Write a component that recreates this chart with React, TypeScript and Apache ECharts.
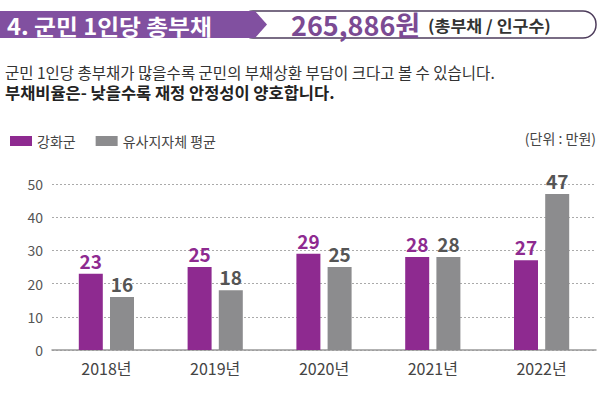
import React, { useEffect, useRef } from "react";
import * as echarts from "echarts";

const categories = ["2018년", "2019년", "2020년", "2021년", "2022년"];
const ganghwa = [23, 25, 29, 28, 27];
const similarAvg = [16, 18, 25, 28, 47];
const yTicks = [0, 10, 20, 30, 40, 50];
const seriesNames = ["강화군", "유사지자체 평균"];

const title = "4. 군민 1인당 총부채";
const bigValue = "265,886원";
const formula = "(총부채 / 인구수)";
const line1 = "군민 1인당 총부채가 많을수록 군민의 부채상환 부담이 크다고 볼 수 있습니다.";
const line2 = "부채비율은- 낮을수록 재정 안정성이 양호합니다.";
const unit = "(단위 : 만원)";

const PURPLE = "#8e2a90";
const GRAY = "#8c8c8e";
const FONT = "'Noto Sans CJK KR', 'Noto Sans', sans-serif";

export default function App() {
  const ref = useRef<HTMLDivElement>(null);
  useEffect(() => {
    if (!ref.current) return;
    const chart = echarts.init(ref.current, null, { renderer: "svg" });
    chart.setOption({
      animation: false,
      backgroundColor: "#ffffff",
      textStyle: { fontFamily: FONT },
      legend: {
        left: 5,
        top: 129,
        itemWidth: 22,
        itemHeight: 10,
        itemGap: 20,
        icon: "rect",
        textStyle: { fontSize: 14, color: "#444", fontFamily: FONT },
        data: seriesNames,
      },
      grid: { left: 52, right: 4, top: 184, bottom: 49 },
      xAxis: {
        type: "category",
        data: categories,
        axisLine: { show: true, lineStyle: { color: "#999", width: 1.5 } },
        axisTick: { show: false },
        axisLabel: { fontSize: 16, color: "#444", margin: 10, fontFamily: FONT },
      },
      yAxis: {
        type: "value",
        min: yTicks[0],
        max: yTicks[yTicks.length - 1],
        interval: 10,
        axisLine: { show: false },
        axisTick: { show: false },
        axisLabel: { fontSize: 14, color: "#555", margin: 9, fontFamily: FONT },
        splitLine: { show: true, lineStyle: { color: "#aaa", type: [2, 2], width: 1 } },
      },
      series: [
        {
          name: seriesNames[0],
          type: "bar",
          data: ganghwa,
          barWidth: 24,
          barGap: "30%",
          itemStyle: { color: PURPLE },
          label: {
            show: true,
            position: "top",
            distance: 4,
            fontSize: 19,
            fontWeight: "bold",
            color: PURPLE,
            fontFamily: FONT,
          },
        },
        {
          name: seriesNames[1],
          type: "bar",
          data: similarAvg,
          barWidth: 24,
          itemStyle: { color: GRAY },
          label: {
            show: true,
            position: "top",
            distance: 4,
            fontSize: 19,
            fontWeight: "bold",
            color: "#555",
            fontFamily: FONT,
          },
        },
      ],
      graphic: [
        {
          type: "rect",
          shape: { x: 240, y: 11, width: 356, height: 27, r: 13 },
          style: { fill: "#fff", stroke: "#4e3d5c", lineWidth: 1.5 },
        },
        {
          type: "polygon",
          shape: { points: [[0, 11], [255, 11], [267, 24.5], [255, 38], [0, 38]] },
          style: { fill: "#8150a0" },
        },
        {
          type: "text",
          x: 7,
          y: 25,
          scaleX: 1.08,
          style: { text: title, font: `bold 22px ${FONT}`, fill: "#fff", textVerticalAlign: "middle" },
        },
        {
          type: "text",
          x: 291,
          y: 24,
          style: { text: bigValue, font: `bold 27px ${FONT}`, fill: "#7b4a93", textVerticalAlign: "middle" },
        },
        {
          type: "text",
          x: 428,
          y: 25,
          scaleX: 1.08,
          style: { text: formula, font: `bold 16px ${FONT}`, fill: "#333", textVerticalAlign: "middle" },
        },
        {
          type: "text",
          x: 5,
          y: 72,
          style: { text: line1, font: `15.5px ${FONT}`, lineHeight: 17, fill: "#333", textVerticalAlign: "middle" },
        },
        {
          type: "text",
          x: 5,
          y: 92,
          scaleX: 1.03,
          style: { text: line2, font: `bold 16px ${FONT}`, lineHeight: 17, fill: "#222", textVerticalAlign: "middle" },
        },
        {
          type: "text",
          right: 4,
          top: 131,
          style: { text: unit, font: `14px ${FONT}`, fill: "#444" },
        },
      ],
    });
    return () => chart.dispose();
  }, []);
  return <div ref={ref} style={{ width: 600, height: 399, position: "fixed", left: 0, top: 0 }} />;
}
